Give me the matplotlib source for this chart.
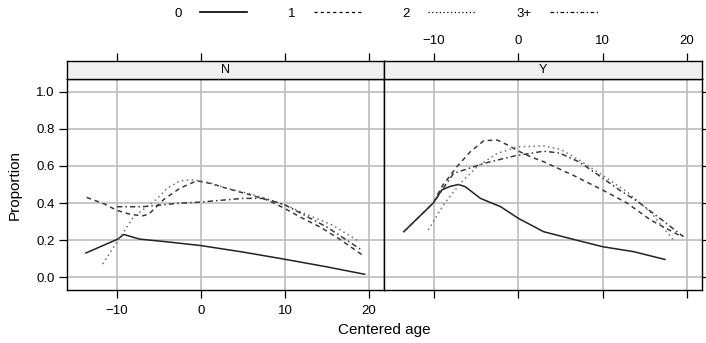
import matplotlib
matplotlib.use("Agg")
import matplotlib.pyplot as plt
from matplotlib.lines import Line2D

plt.rcParams['font.family'] = ['Liberation Sans', 'DejaVu Sans']

# ---------------- data ----------------
groups = ["0", "1", "2", "3+"]
panels = ["N", "Y"]
xticks = [-10, 0, 10, 20]
xticklabels = ["\u221210", "0", "10", "20"]
yticks = [0.0, 0.2, 0.4, 0.6, 0.8, 1.0]

# Panel N
age_N_0 = [-13.7, -9.9, -9.2, -7.3, -4.0, 0.0, 5.0, 10.0, 15.0, 19.5]
prop_N_0 = [0.13, 0.205, 0.23, 0.205, 0.19, 0.17, 0.135, 0.096, 0.055, 0.015]
age_N_1 = [-13.6, -11.5, -10.0, -8.5, -7.0, -6.2, -4.4, -2.5, -0.5, 1.1, 3.0, 5.8, 8.0, 10.0, 12.0, 14.2, 16.5, 19.2]
prop_N_1 = [0.43, 0.395, 0.36, 0.34, 0.33, 0.34, 0.42, 0.48, 0.52, 0.506, 0.48, 0.445, 0.415, 0.37, 0.32, 0.27, 0.205, 0.12]
age_N_2 = [-11.7, -10.0, -8.0, -5.4, -4.0, -2.5, -0.9, 1.0, 3.0, 5.8, 8.0, 10.0, 12.5, 15.7, 18.9]
prop_N_2 = [0.07, 0.19, 0.326, 0.416, 0.48, 0.52, 0.525, 0.51, 0.48, 0.45, 0.42, 0.39, 0.34, 0.28, 0.19]
age_N_3 = [-10.0, -7.0, -5.6, -2.9, 0.0, 2.7, 5.0, 7.5, 10.0, 12.5, 15.0, 17.0, 19.0]
prop_N_3 = [0.38, 0.38, 0.385, 0.398, 0.405, 0.416, 0.425, 0.425, 0.39, 0.33, 0.27, 0.21, 0.15]

# Panel Y
age_Y_0 = [-13.6, -10.1, -9.1, -8.1, -7.1, -6.3, -4.5, -2.1, 0.0, 3.0, 6.5, 10.0, 13.7, 17.4]
prop_Y_0 = [0.245, 0.40, 0.47, 0.49, 0.50, 0.488, 0.425, 0.38, 0.317, 0.245, 0.204, 0.164, 0.137, 0.095]
age_Y_1 = [-13.6, -10.1, -9.1, -7.3, -5.7, -4.1, -2.5, -1.3, -0.1, 1.45, 3.0, 6.5, 10.0, 12.9, 15.7, 19.4]
prop_Y_1 = [0.245, 0.40, 0.488, 0.596, 0.677, 0.737, 0.74, 0.714, 0.683, 0.65, 0.623, 0.55, 0.47, 0.40, 0.308, 0.218]
age_Y_2 = [-10.7, -8.9, -6.9, -4.9, -2.5, 0.0, 3.0, 5.0, 7.3, 10.0, 12.9, 15.7, 18.4]
prop_Y_2 = [0.254, 0.39, 0.506, 0.596, 0.668, 0.704, 0.708, 0.69, 0.63, 0.55, 0.46, 0.35, 0.20]
age_Y_3 = [-9.8, -7.7, -4.1, -0.5, 3.0, 4.9, 7.3, 10.0, 12.0, 14.1, 17.0, 19.6]
prop_Y_3 = [0.42, 0.56, 0.614, 0.654, 0.68, 0.67, 0.62, 0.535, 0.47, 0.41, 0.31, 0.218]

data = {
    "N": [(age_N_0, prop_N_0), (age_N_1, prop_N_1), (age_N_2, prop_N_2), (age_N_3, prop_N_3)],
    "Y": [(age_Y_0, prop_Y_0), (age_Y_1, prop_Y_1), (age_Y_2, prop_Y_2), (age_Y_3, prop_Y_3)],
}

styles = [
    dict(color="#222222", linestyle="-", lw=1.1),
    dict(color="#3a3a3a", linestyle=(0, (3, 2.5)), lw=1.1),
    dict(color="#707070", linestyle=(0, (1, 2.2)), lw=1.1),
    dict(color="#3a3a3a", linestyle=(0, (3.5, 2, 1, 2)), lw=1.1),
]
leg_styles = [
    dict(color="black", linestyle="-", lw=1.2),
    dict(color="black", linestyle=(0, (2.5, 2.5)), lw=0.9),
    dict(color="black", linestyle=(0, (1, 2)), lw=0.9),
    dict(color="black", linestyle=(0, (3, 2, 1, 2)), lw=0.9),
]

# ---------------- layout ----------------
W, H = 706, 343
fig = plt.figure(figsize=(W / 100, H / 100), dpi=100)

xlim = (-15.95, 21.8)
ylim = (-0.07, 1.07)
panel_px = {"N": (67, 384), "Y": (384, 702)}
top_px, bot_px = 79, 290
strip_top = 61

tick_fs = 9.5
grid_c = "#bdbdbd"

for i, p in enumerate(panels):
    x0, x1 = panel_px[p]
    ax = fig.add_axes([x0 / W, (H - bot_px) / H, (x1 - x0) / W, (bot_px - top_px) / H])
    ax.set_xlim(*xlim)
    ax.set_ylim(*ylim)
    ax.set_xticks(xticks)
    ax.set_yticks(yticks)
    ax.grid(True, color=grid_c, lw=1.2)
    ax.set_axisbelow(True)
    for (xs, ys), st in zip(data[p], styles):
        ax.plot(xs, ys, **st)
    for s in ax.spines.values():
        s.set_linewidth(1.0)
    ax.tick_params(direction="out", length=6, width=0.9, labelsize=tick_fs, pad=3)
    if i == 0:
        ax.yaxis.set_major_formatter(matplotlib.ticker.FormatStrFormatter("%.1f"))
        ax.tick_params(axis="x", bottom=True, labelbottom=True, pad=4.5)
        ax.tick_params(axis="y", left=True, labelleft=True, right=False)
        ax.set_xticklabels(xticklabels)
    else:
        ax.tick_params(axis="x", bottom=True, labelbottom=False)
        ax.tick_params(axis="y", left=False, labelleft=False, right=True, labelright=False)

    sax = fig.add_axes([x0 / W, (H - top_px) / H, (x1 - x0) / W, (top_px - strip_top) / H])
    sax.set_facecolor("#f0f0f0")
    sax.set_xlim(*xlim)
    sax.set_yticks([])
    sax.set_xticks(xticks)
    sax.xaxis.tick_top()
    sax.tick_params(axis="x", direction="out", length=6, width=0.9, labelsize=tick_fs, pad=4,
                    bottom=False, labelbottom=False, top=True, labeltop=(i == 1))
    if i == 1:
        sax.set_xticklabels(xticklabels)
    for s in sax.spines.values():
        s.set_linewidth(1.0)
    sax.text(0.5, 0.5, p, transform=sax.transAxes, ha="center", va="center", fontsize=9)

fig.text(15 / W, 1 - 185 / H, "Proportion", rotation=90, ha="center", va="center", fontsize=11)
fig.text(384.5 / W, 1 - 330 / H, "Centered age", ha="center", va="center", fontsize=11)

handles = [Line2D([], [], **st) for st in leg_styles]
fig.legend(handles, groups, loc="center", bbox_to_anchor=(386 / W, 1 - 14 / H), ncol=4,
           frameon=False, markerfirst=False, fontsize=9.5, handlelength=3.6,
           handletextpad=1.4, columnspacing=3.1, borderaxespad=0)

fig.savefig("out.png", dpi=100)
